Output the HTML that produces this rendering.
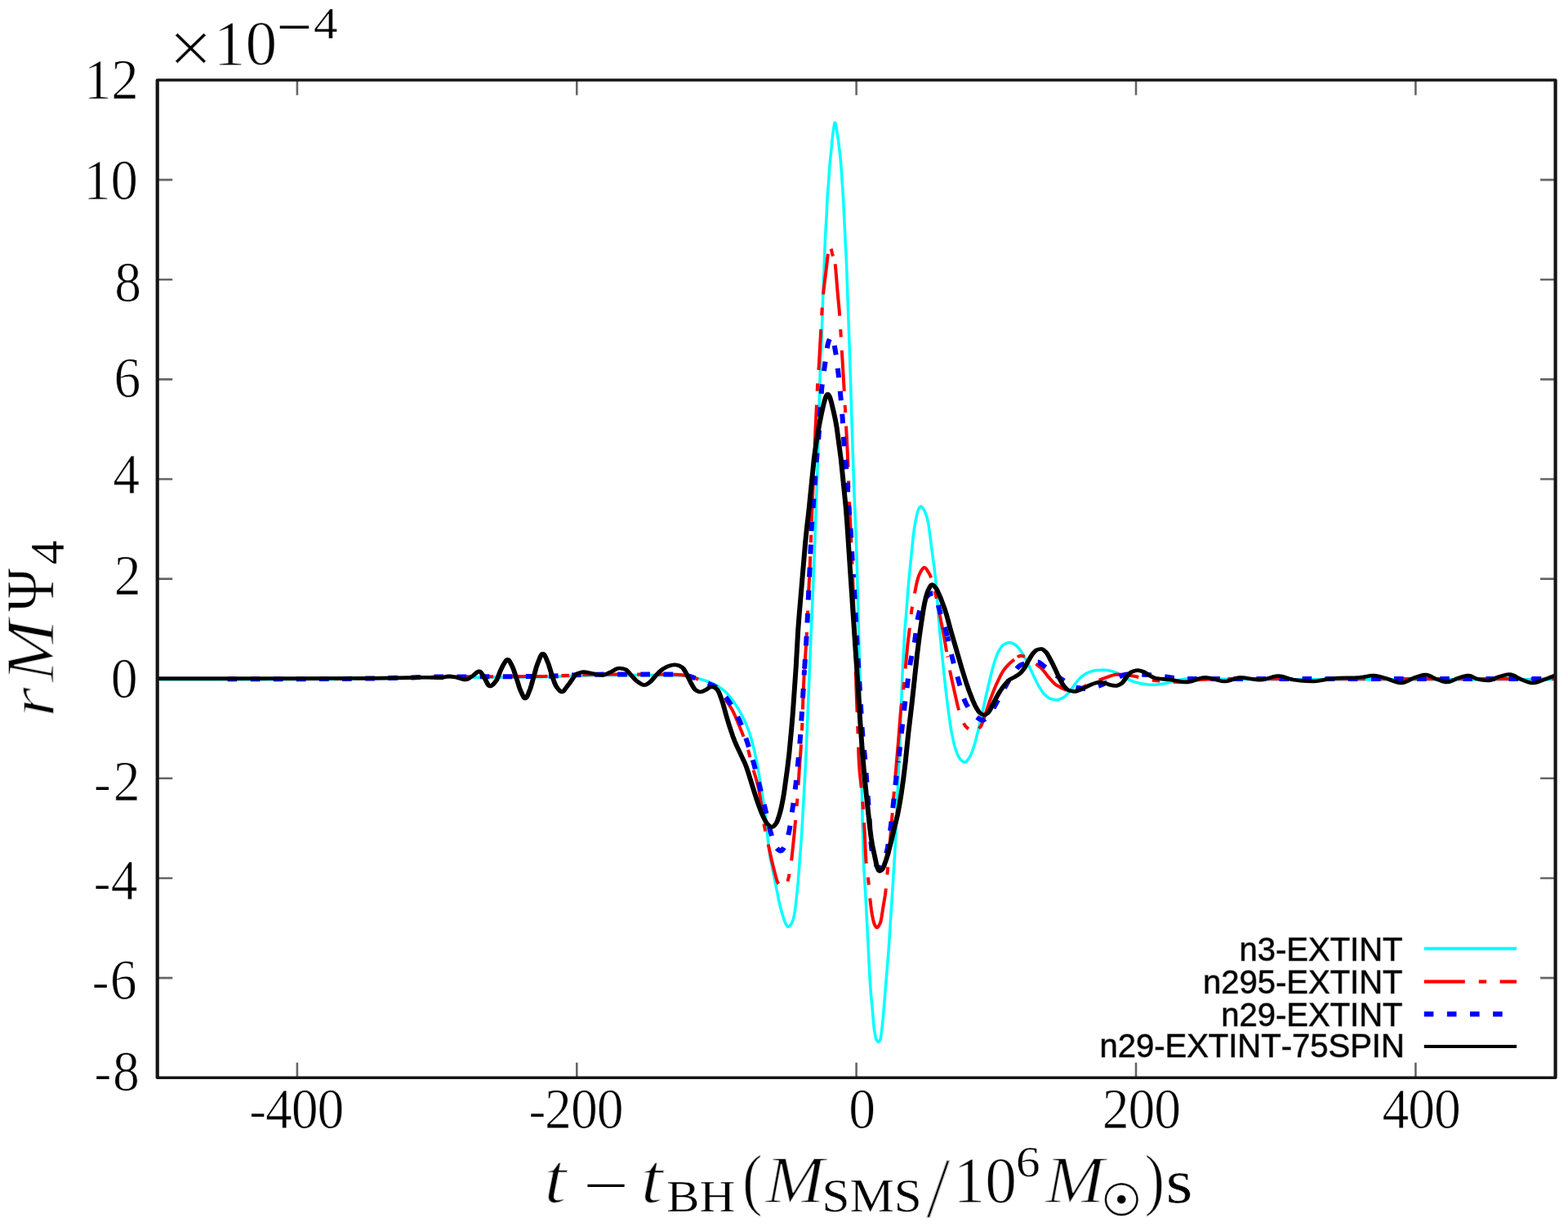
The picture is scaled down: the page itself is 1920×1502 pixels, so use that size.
<!DOCTYPE html>
<html lang="en"><head><meta charset="utf-8"><title>rM&#936;4 waveform</title>
<style>html,body{margin:0;padding:0;background:#fff}body{width:1920px;height:1502px;overflow:hidden}svg{display:block}</style>
</head><body>
<svg width="1920" height="1502" viewBox="0 0 1920 1502" role="img" aria-label="rM Psi4 waveform versus time for four models">
<rect x="0" y="0" width="1920" height="1502" fill="#ffffff"/>
<g stroke="#666" stroke-width="2.6" fill="none">
<path d="M363.9,1319.2 v-18.5 M363.9,98.0 v18.5"/>
<path d="M706.3,1319.2 v-18.5 M706.3,98.0 v18.5"/>
<path d="M1048.6,1319.2 v-18.5 M1048.6,98.0 v18.5"/>
<path d="M1391.0,1319.2 v-18.5 M1391.0,98.0 v18.5"/>
<path d="M1733.4,1319.2 v-18.5 M1733.4,98.0 v18.5"/>
<path d="M192.7,1197.1 h18.5 M1904.6,1197.1 h-18.5"/>
<path d="M192.7,1075.0 h18.5 M1904.6,1075.0 h-18.5"/>
<path d="M192.7,952.8 h18.5 M1904.6,952.8 h-18.5"/>
<path d="M192.7,830.7 h18.5 M1904.6,830.7 h-18.5"/>
<path d="M192.7,708.6 h18.5 M1904.6,708.6 h-18.5"/>
<path d="M192.7,586.5 h18.5 M1904.6,586.5 h-18.5"/>
<path d="M192.7,464.4 h18.5 M1904.6,464.4 h-18.5"/>
<path d="M192.7,342.2 h18.5 M1904.6,342.2 h-18.5"/>
<path d="M192.7,220.1 h18.5 M1904.6,220.1 h-18.5"/>
</g>
<g fill="none" stroke-linejoin="round">
<path d="M192.70,831.80 L348.70,831.75 L417.20,831.51 L459.70,831.07 L509.70,830.07 L533.70,829.47 L562.20,829.31 L631.20,829.05 L664.20,828.73 L679.70,828.26 L716.20,826.93 L729.70,826.60 L758.70,826.40 L811.20,826.44 L827.70,826.67 L834.20,827.03 L841.70,827.73 L845.20,828.39 L856.20,830.96 L861.20,832.36 L866.70,834.23 L871.20,836.05 L875.20,837.92 L879.20,840.11 L882.70,842.36 L885.70,844.57 L888.20,846.71 L890.70,849.28 L893.70,852.85 L897.20,857.49 L901.20,863.21 L904.20,867.96 L907.20,873.24 L910.20,879.08 L912.70,884.43 L915.20,890.42 L917.70,897.22 L919.70,903.45 L921.70,910.80 L924.20,921.22 L926.20,930.87 L929.20,946.95 L933.20,970.71 L935.20,983.94 L937.20,998.98 L939.20,1017.44 L941.70,1039.93 L942.70,1047.23 L943.70,1052.90 L947.20,1069.59 L951.70,1092.16 L953.70,1102.42 L955.20,1108.97 L957.20,1116.45 L960.20,1126.26 L961.20,1129.04 L961.70,1130.14 L963.20,1132.69 L964.20,1133.98 L964.70,1134.36 L965.20,1134.50 L965.70,1134.41 L966.20,1134.16 L966.70,1133.78 L967.70,1132.67 L969.20,1130.50 L969.70,1129.60 L970.20,1128.45 L971.20,1125.43 L972.20,1121.56 L972.70,1119.32 L973.20,1116.41 L974.20,1108.63 L976.20,1090.52 L977.20,1079.90 L980.20,1040.59 L981.20,1027.11 L982.70,1002.93 L984.70,966.32 L986.20,940 L988.20,895 L990.70,835.08 L993.20,773.88 L995.70,717.14 L997.70,666.40 L1000.20,594.95 L1001.20,569.07 L1001.70,553.10 L1003.20,492.53 L1004.20,457.80 L1004.70,445.38 L1005.70,424.84 L1006.20,411.67 L1007.70,363.70 L1010.20,298.68 L1011.20,278.23 L1012.20,263.20 L1012.70,250.24 L1013.20,239.99 L1014.70,221.77 L1015.70,205.87 L1016.20,199.71 L1018.20,180.19 L1019.20,169.42 L1019.70,164.82 L1021.20,154.15 L1021.70,151.55 L1022.20,150.14 L1022.70,150.26 L1023.20,151.69 L1023.70,154.06 L1025.70,166.38 L1027.20,177.46 L1028.70,190.41 L1029.70,200.81 L1030.20,207.29 L1031.20,223.20 L1032.20,236.84 L1032.70,245.08 L1033.70,267.07 L1034.70,286.55 L1035.20,297.93 L1036.20,315.90 L1036.70,327.40 L1038.20,370.92 L1040.20,425.98 L1041.70,473.22 L1043.20,521.27 L1045.70,597.58 L1046.70,621.78 L1048.20,657.43 L1049.20,686.74 L1050.70,744.54 L1052.20,801.67 L1053.20,845.14 L1054.20,900 L1055.20,960.98 L1056.20,1008.50 L1057.20,1046.95 L1057.70,1060.23 L1058.20,1069.69 L1059.70,1092.75 L1062.20,1139.81 L1064.70,1190.81 L1065.20,1199.88 L1066.20,1213.50 L1068.20,1235.45 L1069.70,1253.15 L1070.20,1257.98 L1070.70,1261.64 L1071.70,1267.41 L1072.20,1269.73 L1072.70,1271.52 L1073.20,1272.69 L1074.20,1274.39 L1074.70,1275.01 L1075.20,1275.40 L1075.70,1275.49 L1076.20,1275.24 L1076.70,1274.69 L1077.20,1273.89 L1077.70,1272.92 L1078.20,1271.60 L1078.70,1269.09 L1079.20,1265.58 L1081.20,1247.42 L1083.20,1223.61 L1086.20,1186.23 L1087.70,1168.35 L1089.20,1146.45 L1094.70,1061.43 L1096.20,1035.71 L1097.20,1015.27 L1100.70,934.62 L1101.70,912.41 L1104.70,832.33 L1105.70,811.36 L1107.20,782.86 L1107.70,774.47 L1108.20,767.76 L1109.70,750.44 L1112.20,717.83 L1113.20,706.88 L1117.20,666.92 L1118.20,656.67 L1119.20,648.97 L1120.70,639.75 L1122.20,632.40 L1123.20,628.09 L1123.70,626.23 L1124.20,624.71 L1125.20,622.56 L1126.20,620.82 L1126.70,620.26 L1127.20,620.01 L1127.70,620.07 L1128.20,620.31 L1129.20,621.16 L1130.20,622.22 L1131.20,623.72 L1132.70,626.83 L1133.70,629.36 L1134.70,632.40 L1135.70,636.07 L1136.70,640.49 L1137.20,643.44 L1138.70,655.15 L1142.20,682.12 L1144.20,696.61 L1145.70,710.14 L1146.70,720.96 L1149.70,760.67 L1151.20,778.05 L1156.20,827.40 L1159.20,854.02 L1161.20,869.90 L1163.70,887.62 L1165.20,896.50 L1167.20,906.27 L1168.70,912.47 L1169.70,915.89 L1171.70,921.58 L1173.20,925.16 L1174.20,927.07 L1175.20,928.50 L1177.20,930.72 L1178.70,932.07 L1179.70,932.71 L1180.70,933.05 L1181.20,933.10 L1181.70,933.04 L1182.20,932.86 L1183.20,932.19 L1184.20,931.18 L1185.70,929.25 L1187.70,926.30 L1188.70,924.31 L1190.20,920.53 L1192.70,913.19 L1194.20,908.14 L1197.20,896.50 L1199.70,885.84 L1210.20,839.51 L1214.20,823.02 L1216.20,815.27 L1217.70,810.20 L1220.20,803 L1221.70,799.32 L1222.70,797.29 L1224.70,794.07 L1226.20,791.95 L1227.70,790.20 L1228.70,789.30 L1229.70,788.65 L1232.70,787.35 L1234.70,786.79 L1236.20,786.61 L1237.20,786.65 L1238.70,787.01 L1240.20,787.65 L1243.20,789.36 L1244.70,790.51 L1246.20,792.05 L1248.20,794.49 L1250.70,797.86 L1252.70,801.07 L1255.70,806.56 L1259.20,813.40 L1265.70,827.41 L1270.20,836.66 L1272.20,840.30 L1275.20,845.17 L1276.70,847.34 L1278.20,849.18 L1281.20,852.09 L1283.20,853.72 L1284.70,854.67 L1286.20,855.30 L1289.70,856.23 L1292.20,856.63 L1294.20,856.68 L1295.70,856.46 L1297.70,855.85 L1301.20,854.30 L1302.70,853.43 L1304.20,852.27 L1306.20,850.41 L1309.20,847.24 L1310.70,845.34 L1315.70,838.14 L1320.20,832.57 L1322.20,830.38 L1323.70,829 L1327.20,826.28 L1329.70,824.64 L1331.70,823.58 L1334.20,822.61 L1337.70,821.50 L1340.70,820.83 L1343.70,820.50 L1349.20,820.15 L1352.70,820.12 L1355.70,820.42 L1359.70,821.17 L1362.70,821.89 L1365.20,822.80 L1369.20,824.62 L1372.20,826.15 L1378.70,830.22 L1382.20,831.94 L1386.20,833.63 L1389.70,834.82 L1394.70,836.20 L1398.70,837 L1405.20,837.98 L1408.70,838.27 L1412.20,838.26 L1416.70,837.93 L1424.20,837.01 L1427.20,836.53 L1431.20,835.53 L1439.20,833.17 L1442.70,832.38 L1452.20,831.03 L1457.70,830.48 L1462.20,830.30 L1468.20,830.43 L1480.20,830.98 L1507.20,831.40 L1570.20,831.75 L1675.20,831.80 L1874.70,831.80 L1904.60,831.80" stroke="#00ffff" stroke-width="3.5"/>
<path d="M192.70,831 L292.45,831 L376.45,830.88 L423.95,830.66 L463.95,830.21 L505.70,829.36 L532.45,828.60 L549.70,828.45 L649.45,828.09 L665.95,827.90 L680.95,827.33 L700.45,826.48 L723.95,825.70 L748.20,825.44 L810.20,825.43 L827.20,825.66 L832.70,826.01 L839.20,826.71 L842.20,827.19 L845.20,828.03 L853.20,830.86 L865.20,835.83 L868.20,837.32 L870.95,839 L873.70,841 L876.95,843.73 L880.45,847.05 L883.70,850.53 L886.70,854.16 L889.95,858.54 L893.20,863.41 L896.45,868.79 L898.45,872.65 L901.20,878.73 L908.70,897.08 L911.95,905.52 L914.45,912.74 L916.45,919.35 L920.20,933.43 L923.20,944.63 L926.95,957.28 L928.45,963.14 L929.70,969.04 L930.95,976.74 L934.70,1003.86 L935.95,1011.42 L937.95,1021.34 L944.95,1053.20 L947.70,1064.19 L950.20,1073.84 L951.45,1077.89 L952.45,1080.41 L953.20,1081.76 L955.20,1084.30 L956.45,1085.54 L957.45,1086.21 L958.20,1086.46 L958.95,1086.46 L959.70,1086.12 L960.45,1085.48 L961.45,1084.23 L962.70,1082.19 L964.20,1079.23 L964.95,1077 L965.95,1072.95 L967.45,1065.19 L968.45,1058.94 L969.70,1048.26 L972.20,1024.49 L974.95,995.27 L976.70,973.52 L977.70,958.57 L978.70,942.35 L980.45,919.25 L981.70,898.93 L982.45,882.81 L983.45,851.28 L984.45,829.36 L985,819.66" stroke="#ff0000" stroke-width="4.0" stroke-dasharray="50.0 17.0 9.4 16.4" stroke-dashoffset="36.2"/>
<path d="M985,819.66 L986.75,794.06 L988.25,767.50 L989.25,745.44 L990.25,722.78 L991.75,693.47 L992.50,673.41 L993.50,644.91 L996.50,573.52 L998.50,525.49 L1000,494.78 L1001,471.80 L1001.75,461.43 L1002.50,452.01 L1005,407.72 L1006.50,380.19 L1007.50,365.91 L1008.50,355.44 L1010,343.41 L1011.50,331.58 L1013.50,313.69 L1015,302.43 L1015.25,300.99 L1015.50,299.97 L1015.75,299.51 L1016,299.60 L1016.25,299.97 L1017,302.05 L1017.75,304.69 L1019,310.27 L1020,313.53 L1021.25,317.35 L1022,320.27 L1022.60,323.30" stroke="#ff0000" stroke-width="4.0" stroke-dasharray="50.0 17.0 9.4 16.4" stroke-dashoffset="4.1"/>
<path d="M1022.60,323.30 L1023.10,327.19 L1024.10,339.12 L1025.35,354.98 L1027.60,379.01 L1028.20,386.60" stroke="#ff0000" stroke-width="4.0"/>
<path d="M1028.20,386.60 L1031.45,439.54 L1033.20,469.43 L1034.20,486.76 L1035.45,511.08 L1037.45,547.66 L1038.45,569.62 L1039.95,614.22 L1040.70,630.99 L1042.20,660.54 L1043.70,694.93 L1045,730" stroke="#ff0000" stroke-width="4.0" stroke-dasharray="50.0 17.0 9.4 16.4" stroke-dashoffset="50.4"/>
<path d="M1045,730 L1047,793.17 L1048.75,851.44 L1050.25,890.16 L1051.50,926.38 L1052,936.50 L1052.75,946.01 L1054.75,964.75 L1056.25,980.26 L1057.25,993.67 L1058.75,1019.20 L1060,1046.33 L1060.50,1054.40 L1061.25,1062.01 L1063,1074.98 L1063.75,1082.13 L1065.25,1099.29 L1065.40,1100.70" stroke="#ff0000" stroke-width="4.0" stroke-dasharray="50.0 17.0 9.4 16.4" stroke-dashoffset="0.9"/>
<path d="M1065.40,1100.70 L1066.90,1113.19 L1067.90,1119.86 L1069.15,1125.95 L1070.15,1129.78 L1070.90,1131.80 L1072.15,1134.09 L1072.90,1135.08 L1073.40,1135.44 L1073.90,1135.48 L1074.40,1135.29 L1075.15,1134.64 L1075.90,1133.63 L1077.15,1131.33 L1078.15,1129.03 L1078.65,1127.13 L1079.40,1123.18 L1081.65,1108.93 L1083.65,1096.97 L1084.70,1089.20" stroke="#ff0000" stroke-width="4.0"/>
<path d="M1084.70,1089.20 L1085.70,1078.98 L1090.70,1019.97 L1095.70,958.25 L1100,908" stroke="#ff0000" stroke-width="4.0" stroke-dasharray="50.0 17.0 9.4 16.4" stroke-dashoffset="48.4"/>
<path d="M1100,908 L1102.50,875.35 L1103.50,865.33 L1106.25,843.06 L1108.50,820.35 L1111.25,790.37 L1112.50,779.72 L1113.75,769.69 L1115.75,750.99 L1117,742.57 L1118.75,732.99 L1122,715.83 L1123,711.64 L1124.50,706.35 L1125.50,703.58 L1127,700.59 L1128.75,697.54 L1129.75,696.17 L1130.50,695.41 L1131.25,694.94 L1131.75,694.81 L1132.25,694.84 L1133,695.20 L1134,696.15 L1135.25,697.87 L1138,702.42 L1139.50,705.67 L1141.25,710.35 L1142.50,714.42 L1144.25,721.36 L1147.25,734.84 L1152,759.24 L1155,773.94 L1157,785.39 L1160,803.28" stroke="#ff0000" stroke-width="4.0" stroke-dasharray="50.0 17.0 9.4 16.4" stroke-dashoffset="2.9"/>
<path d="M1160,803.28 L1163.25,821.29 L1165.50,832.21 L1170.25,853.43 L1172.50,863.41 L1173.75,868.02 L1176.75,877.16 L1178.75,882.48 L1180.25,885.78 L1181.50,887.93 L1182.50,889.20 L1185.25,891.92 L1187.25,893.52 L1188.75,894.40 L1190,894.85 L1191.25,895 L1192.75,894.82 L1194.25,894.34 L1195.75,893.59 L1197.75,892.22 L1198.50,891.61" stroke="#ff0000" stroke-width="4.0" stroke-dasharray="50.0 17.0 9.4 16.4" stroke-dashoffset="75.3"/>
<path d="M1198.50,891.61 L1200.50,889.80 L1201.25,888.79 L1202.25,886.69 L1203.75,882.55 L1206,875.95 L1208.75,867.80 L1212,857.99 L1216.25,846.66 L1219.25,839.37 L1223.25,830.79 L1226,825.38 L1228,821.93 L1229.75,819.37 L1232.25,816.29 L1235,813.36 L1237.75,810.81 L1242,807.41" stroke="#ff0000" stroke-width="4.0"/>
<path d="M1242,807.41 L1245.25,804.80 L1247,803.68 L1248.50,803.04 L1249.50,802.83 L1251,802.85 L1253,803.21 L1255.75,804.11 L1258.75,805.35 L1260.50,806.45 L1263.50,808.89 L1266.50,811.28 L1271.75,815.19 L1274.50,817.53 L1276.25,819.29 L1278.75,822.30 L1283.25,828.08 L1289.50,835.13 L1291.75,837.30 L1293.25,838.46 L1298.75,841.61 L1302.50,843.48 L1305.50,844.69 L1308,845.43 L1310.25,845.85 L1312.50,846 L1314.50,845.84 L1316.50,845.41 L1319,844.55 L1322.25,843.08 L1329.25,839.55 L1341.25,834.43 L1347.50,831.89 L1354.50,829.34 L1360,827.30 L1363.25,826.34 L1366,825.80 L1368.50,825.60 L1372.75,825.72 L1378,826.20 L1387.25,827.46 L1390.50,828.06 L1395,829.23 L1402.25,831.26 L1405.75,831.96 L1413.50,832.97 L1422.50,833.81 L1436.50,834.79 L1443,835 L1446.75,834.91 L1451.25,834.49 L1459,833.34 L1465.25,832.43 L1469.75,832.01 L1485.75,831.28 L1496.50,831.02 L1596.25,831 L1696,831 L1795.75,831 L1895.50,831 L1904.60,831" stroke="#ff0000" stroke-width="4.0" stroke-dasharray="50.0 17.0 9.4 16.4" stroke-dashoffset="62.1"/>
<path d="M268,831.30 L358.75,831.23 L415.25,831.01 L457.25,830.49 L503.25,829.42 L531.75,828.61 L548,828.46 L647.75,828.10 L665.75,827.90 L678.75,827.43 L699.50,826.52 L723.25,825.72 L742.50,825.48 L769.50,825.40 L811.50,825.44 L827.50,825.67 L833.25,826.05 L840.25,826.85 L842.50,827.26 L845.25,828.05 L852.75,830.70 L867.50,836.67 L874,839.59 L876.75,841.09 L879,842.63 L881,844.37 L883.50,846.99 L886.75,850.91 L891.75,857.58 L895,862.36 L898.25,867.69 L901.50,873.62 L904.75,880.22 L906.75,884.91 L909.50,892.30 L915.75,910.76 L919.75,923.49 L923.50,936.41 L927.25,950.64 L933.50,975.64 L937.75,993.46 L941.75,1011.23 L943.50,1018 L946.50,1028.63 L947.75,1032.39 L948.75,1034.74 L949.50,1036 L951.50,1038.55 L953,1040.10 L954,1040.87 L955,1041.35 L955.75,1041.50 L956.50,1041.39 L957.25,1040.99 L958.25,1040.05 L959.50,1038.37 L961.50,1035 L962.25,1033.36 L963.25,1030.36 L964.50,1025.60 L966.50,1016.53 L967.75,1009.25 L972.50,975.71 L974.50,959.80 L976.25,943 L979.25,911.92 L980.25,898.81 L982.50,862.61 L983.75,842.69 L985,820.39" stroke="#0000ff" stroke-width="6.0" stroke-dasharray="11.6 16.5" stroke-dashoffset="17.5"/>
<path d="M985,820.39 L986.75,794.04 L988.25,767.50 L989.25,745.44 L990.25,722.69 L992,687.75 L993.25,656.13 L993.75,646.44 L994.75,632.30 L996.25,612.95 L999.75,563.78 L1001,549.92 L1002.25,536.85 L1003,527.01 L1005.50,484.46 L1006.25,475.09 L1007.25,466.18 L1008.75,455.58 L1010.50,443.33 L1012.50,428.13 L1013.25,423.50 L1014,420.13 L1015,416.96 L1016,414.59 L1017.25,412.18 L1017.75,411.59 L1018,411.50 L1018.25,411.60 L1018.50,411.89 L1019,412.89 L1020,415.57 L1020.75,418.33 L1022,424.49 L1023.25,431.70 L1024.75,442.42 L1026.75,459.03 L1028.75,478.74 L1030.75,500.38 L1031.75,513.55 L1033,536.22 L1033.75,545.99 L1035.75,566.67 L1037,584.16 L1040,628.36 L1041.75,650.77 L1042.75,668.16 L1044,691.67 L1045,706.90" stroke="#0000ff" stroke-width="6.0" stroke-dasharray="11.6 16.5" stroke-dashoffset="26.2"/>
<path d="M1045,706.90 L1046.50,730 L1048.75,774.59 L1052.25,833.67 L1054,863.70 L1055.50,889.61 L1056.25,899.65 L1057.25,910.02 L1059,926.56 L1060.25,942.09 L1063.75,989.61 L1066,1025.38 L1066.75,1034.51 L1067.25,1038.68 L1068.50,1045.56 L1069.50,1049.93 L1070.50,1053.38 L1071.50,1055.99 L1073,1058.80 L1074.25,1060.80 L1075.25,1062.04 L1076,1062.67 L1076.75,1062.98 L1077.25,1062.97 L1077.75,1062.77 L1078.50,1062.13 L1079.50,1060.78 L1081,1058.04 L1082.50,1054.86 L1083.50,1051.93 L1084.75,1047.27 L1086.75,1038.28 L1088,1031.31 L1089.75,1019.41 L1091.25,1007.85 L1095.25,970.97 L1097.75,949.49 L1100,931.92" stroke="#0000ff" stroke-width="6.0" stroke-dasharray="11.6 16.5" stroke-dashoffset="13.1"/>
<path d="M1100,931.92 L1101.75,916.91 L1105,886.97 L1107.75,863.56 L1112,830.41 L1113.50,818.65 L1114.75,810.89 L1116.50,802.16 L1119,790.46 L1120.25,783.46 L1121.50,774.32 L1123.25,760.74 L1124,755.97 L1124.75,752.52 L1126,748.19 L1127.50,744.02 L1129.25,740.05 L1131.75,735.07 L1133.50,732.10 L1134.75,730.41 L1136.50,728.63 L1137.75,727.63 L1138.75,727.09 L1141,726.47 L1142.50,726.30 L1143,726.39 L1143.50,726.71 L1144.25,727.50 L1145.25,728.90 L1146,730.68 L1148,737.26 L1150.75,748.35 L1153,755.93 L1157.50,770.15 L1159.50,777.36 L1160,779.38" stroke="#0000ff" stroke-width="6.0" stroke-dasharray="11.6 16.5" stroke-dashoffset="21.9"/>
<path d="M1160,779.38 L1164.50,799.37 L1168,812.93 L1172.25,828.07 L1178.50,849.79 L1180.25,855.14 L1181.75,858.95 L1183.25,861.90 L1185.75,866.16 L1188,869.50 L1190.25,872.39 L1192.50,874.82 L1194.50,876.61 L1198.50,879.68 L1200.25,880.75 L1201.50,881.26 L1202.50,881.47 L1203.50,881.46 L1204.50,881.14 L1205.75,880.38 L1207.25,879.07 L1211.75,874.16 L1213.50,871.86 L1215.75,868.35 L1219,862.53 L1224.75,851.74 L1229.50,843.29 L1235.25,832.81 L1238.25,827.85 L1240.75,824.26 L1245,818.54 L1246.75,816.53 L1248.25,815.15 L1249.50,814.34 L1252.50,813.12 L1255.50,812.15 L1258.50,811.46 L1261.50,811.04 L1268,810.65 L1271.25,810.61 L1272.25,810.89 L1273.50,811.62 L1277,814.40 L1281.50,817.61 L1294,827.24 L1298.50,830.41 L1304.50,834.46 L1309.25,837.65 L1312.25,839.39 L1314.75,840.57 L1316.75,841.28 L1320.25,842.07 L1324.25,842.74 L1327.25,842.99 L1330,842.93 L1333.50,842.53 L1339.75,841.41 L1342.75,840.62 L1346.50,839.29 L1351.50,837.14 L1360.25,833.13 L1365.25,831.04 L1372.50,827.52 L1375.25,826.45 L1377.50,825.85 L1379.50,825.61 L1399.75,825.64 L1406,826 L1418,827.20 L1425,827.96 L1440.25,830.29 L1445.50,830.83 L1449.75,831 L1549.50,831 L1649.25,831 L1749,831 L1848.75,831 L1904.60,831" stroke="#0000ff" stroke-width="6.0" stroke-dasharray="11.6 16.5" stroke-dashoffset="5.8"/>
<path transform="scale(1.3,1)" d="M148.23,830.60 L262.46,830.56 L346.31,830.21 L373.62,829.92 L395.15,829.25 L402.08,829.22 L414,829.69 L415.92,829.67 L417.08,829.44 L420.92,828.06 L422.08,827.83 L423.62,827.85 L425.54,828.14 L430.92,829.54 L435.54,831.42 L437.08,831.85 L438.23,832 L439,831.95 L440.15,831.53 L441.31,830.79 L443.23,829.12 L446.31,826.34 L449.38,822.86 L450.15,822.20 L450.92,821.79 L451.31,821.71 L451.69,821.74 L452.08,821.95 L452.46,822.34 L453.23,823.52 L456.69,830.63 L459.38,837.34 L460.15,838.81 L460.54,839.35 L460.92,839.75 L461.31,839.96 L461.69,839.99 L462.08,839.92 L462.85,839.53 L463.62,838.86 L464.77,837.46 L466.31,835.09 L467.46,833.12 L468.23,831.31 L469.38,827.69 L471.31,821.19 L473.62,814.87 L475.54,810.70 L476.69,808.45 L477.08,807.89 L477.46,807.47 L477.85,807.24 L478.23,807.22 L478.62,807.40 L479,807.77 L479.77,808.97 L480.92,811.58 L482.85,816.65 L484,820.57 L487.08,832.73 L489.38,842.31 L490.54,846.04 L492.46,851.61 L493.23,853.41 L493.62,854.10 L494,854.61 L494.38,854.92 L494.77,854.99 L495.15,854.81 L495.54,854.38 L496.31,852.93 L497.46,849.69 L499.38,843.39 L500.54,838.54 L505.15,816.92 L506.31,812.55 L508.62,804.85 L509.38,802.72 L510.15,801.11 L510.54,800.57 L510.92,800.22 L511.31,800.10 L511.69,800.22 L512.08,800.55 L512.46,801.07 L513.23,802.60 L514.38,805.78 L516.69,813.18 L517.85,817.91 L519.77,826.32 L522.46,836.23 L523.62,839.60 L524.38,841.17 L526.31,844.42 L527.46,845.93 L528.23,846.61 L528.62,846.84 L529,846.97 L529.38,847 L529.77,846.89 L530.15,846.65 L530.92,845.83 L532.08,844.01 L534,840.50 L536.31,836.64 L539.38,830.92 L540.92,827.55 L541.69,826.23 L542.46,825.48 L543.62,824.72 L547.46,822.99 L548.62,822.66 L549.77,822.61 L551.69,822.85 L559,824.64 L563.62,825.93 L565.92,826.32 L567.46,826.40 L568.62,826.21 L569.77,825.80 L572.08,824.54 L575.92,822.25 L579.77,819.33 L581.31,818.44 L582.46,818.07 L583.62,818.01 L585.15,818.20 L587.46,818.84 L589,819.43 L589.77,819.95 L590.54,820.75 L592.08,822.92 L594.38,826.49 L598.62,832.37 L599.77,833.73 L603.23,836.82 L604.77,837.90 L605.92,838.42 L606.69,838.58 L607.46,838.56 L608.23,838.30 L609.38,837.58 L610.92,836.20 L613.23,833.81 L614.38,832.21 L617.46,827.32 L621.69,821.76 L623.62,819.62 L625.15,818.28 L627.85,816.40 L629.77,815.31 L631.69,814.53 L634.38,813.88 L635.54,813.80 L637.08,814.01 L638.62,814.41 L639.77,814.93 L640.92,815.67 L642.46,816.97 L643.23,817.76 L644,818.98 L645.15,821.48 L647.85,828.10 L650.54,835.30 L653.23,841.54 L654,843.06 L654.77,844.22 L655.54,844.95 L657.08,846.09 L658.23,846.71 L659,846.94 L659.77,847 L660.54,846.87 L661.69,846.43 L665.15,844.34 L667.85,841.80 L668.62,841.24 L669.38,840.93 L670.92,840.96 L672.85,841.24 L673.23,841.41 L674,842.06 L675.15,843.54 L675.92,844.72 L676.69,846.30 L677.85,849.61 L680.15,857.87 L681.31,862.77 L684.38,877.25 L687.46,890.44 L690.15,900.77 L692.08,907.41 L694.38,914.26 L701.31,933.35 L702.85,938.25 L704.77,945.60 L709,963.35 L712.46,977.65 L714.77,986.40 L717.46,995.54 L719,1000 L720.92,1005.04 L722.08,1007.56 L722.85,1008.80 L724.77,1011.06 L725.92,1012.02 L726.31,1012.23 L727.08,1012.40 L727.46,1012.34 L727.85,1012.17 L728.62,1011.54 L729.77,1010.03 L731.31,1007.41 L732.08,1005.42 L733.23,1001.22 L734.77,994.56 L735.92,988.49 L737.46,978.73 L738.62,969.53 L741.69,940.58 L743.23,923.75 L745.15,897.73 L746.69,874.60 L749.77,816.58 L751.69,771.50 L752.85,751.87 L755.15,716.56 L758.62,663.39 L759.77,648.36 L762.08,622.15 L766.69,562.35 L767.85,550.75 L769.77,534.27 L771.69,520.05 L773.62,507.44 L775.92,494.22 L777.08,488.86 L777.85,485.91 L778.23,484.78 L779,483.06 L779.38,482.47 L779.77,482.31 L780.15,482.66 L780.92,484.25 L781.31,485.19 L782.08,487.92 L783.23,493.04 L785.54,505.98 L787.08,515.46 L788.23,523.93 L789.38,535.23 L790.92,550.38 L792.08,561.52 L793.23,575.97 L796.69,620.87 L797.85,639.94 L799.77,677.63 L805.54,789.87 L808.62,849.44 L810.15,881.82 L812.08,916.75 L813.62,941.05 L815.54,966.98 L819.38,1013.73 L820.54,1025.55 L821.69,1034.62 L823.23,1044.08 L825.54,1058.24 L825.92,1060.11 L827.08,1064.06 L827.46,1065.13 L827.85,1065.94 L828.23,1066.42 L828.62,1066.49 L829,1066.36 L829.38,1066.12 L830.15,1065.35 L831.31,1063.75 L831.69,1062.91 L832.46,1060.55 L834.77,1052.14 L836.31,1045.60 L839.38,1030.32 L842.08,1015.45 L844,1005.24 L845.54,996.87 L847.08,986.44 L849,971.11 L850.92,953.46 L852.85,932.83 L855.54,898.21 L859,860.28 L864,799.79 L865.92,779.71 L867.46,765.67 L869.77,745.93 L870.92,738.03 L872.08,731.64 L873.23,726.26 L874,723.40 L875.92,718.27 L876.69,716.71 L877.08,716.15 L877.46,715.77 L877.85,715.60 L878.23,715.65 L878.62,715.84 L879.38,716.58 L880.54,718.27 L881.69,720.20 L882.46,721.82 L884,726 L886.31,733.04 L889.38,743.91 L891.31,751.45 L892.85,758.61 L894.77,768.22 L906.31,820.05 L910.15,835.82 L912.85,845.87 L916.31,857.47 L918.23,863.09 L919.77,866.75 L921.31,870.03 L922.46,872.03 L923.23,872.99 L924.77,874.24 L925.92,874.93 L926.69,875.17 L927.46,875.15 L928.23,874.81 L929,874.21 L930.54,872.59 L931.31,871.50 L932.46,869.06 L938.62,853.54 L941.31,847.55 L943.62,842.99 L945.92,838.97 L949,834.30 L950.15,832.84 L951.31,831.72 L953.23,830.34 L955.54,828.83 L958.62,826.44 L960.15,825.01 L961.31,823.68 L962.85,821.44 L964.77,818.09 L965.92,815.67 L969,808.01 L971.69,802.17 L972.85,800.04 L974,798.39 L975.54,796.52 L976.31,795.81 L977.08,795.33 L979,794.66 L980.15,794.43 L980.92,794.41 L981.69,794.65 L982.46,795.17 L983.62,796.32 L985.54,798.75 L986.31,800.15 L987.85,803.70 L992.08,814.21 L994.77,821.51 L997.46,829.31 L1000.15,835.97 L1001.31,838.45 L1002.46,840.41 L1004.38,843.03 L1005.54,844.24 L1006.31,844.81 L1008.23,845.58 L1010.15,846.13 L1011.69,846.37 L1012.85,846.38 L1014,846.13 L1015.54,845.47 L1019.77,843.12 L1024,840.30 L1028.23,837.74 L1032.08,835.98 L1034,835.31 L1035.15,835.11 L1036.69,835.19 L1038.62,835.64 L1042.08,836.78 L1045.92,838.58 L1047.08,838.90 L1050.15,839.35 L1051.69,839.38 L1052.46,839.22 L1053.62,838.68 L1055.15,837.59 L1056.69,836.29 L1057.46,835.33 L1058.62,833.40 L1060.92,829.07 L1064,824.37 L1065.15,823.02 L1065.92,822.46 L1068.23,821.35 L1070.15,820.75 L1071.69,820.60 L1072.85,820.73 L1074.38,821.17 L1077.08,822.36 L1078.23,822.99 L1079.77,824.26 L1082.46,826.70 L1085.92,828.98 L1087.46,829.79 L1088.62,830.22 L1091.69,830.83 L1096.31,831.40 L1102.46,832.06 L1105.54,832.62 L1112.85,834.42 L1115.54,834.87 L1117.85,835 L1119.38,834.85 L1121.31,834.37 L1123.62,833.49 L1129.77,830.65 L1132.08,829.84 L1134,829.46 L1135.54,829.41 L1137.85,829.67 L1140.54,830.34 L1148.62,833.13 L1150.92,833.70 L1152.85,833.96 L1154.38,833.98 L1155.92,833.74 L1157.85,833.14 L1161.31,831.59 L1164.38,830.23 L1166.31,829.64 L1167.85,829.41 L1170.15,829.48 L1173.23,829.88 L1182.08,831.73 L1185.15,832.13 L1187.46,832.19 L1189.38,831.94 L1191.69,831.33 L1195.15,830.04 L1199,828.55 L1201.31,827.87 L1203.23,827.55 L1204.77,827.51 L1206.31,827.71 L1208.23,828.23 L1210.92,829.29 L1215.54,831.29 L1217.85,832.02 L1225.15,833.16 L1230.54,833.76 L1235.15,833.99 L1238.23,833.91 L1241.31,833.52 L1245.92,832.56 L1252.85,830.97 L1256.31,830.43 L1260.54,830.14 L1277.08,829.53 L1280.54,829.27 L1284,828.65 L1289.77,827.39 L1292.46,827.05 L1294.38,827.02 L1296.31,827.27 L1298.62,827.87 L1302.85,829.41 L1306.69,830.82 L1309.38,832.11 L1314,834.48 L1316.31,835.40 L1317.85,835.81 L1319.38,835.99 L1320.54,835.94 L1322.08,835.56 L1323.62,834.89 L1325.92,833.53 L1330.15,830.72 L1332.08,829.67 L1338.23,827 L1340.15,826.37 L1341.69,826.07 L1343.23,826.02 L1344.38,826.27 L1345.54,826.73 L1347.46,827.85 L1351.31,830.45 L1352.85,831.27 L1358.62,833.97 L1360.54,834.64 L1362.08,834.95 L1363.23,834.99 L1364.38,834.82 L1365.92,834.28 L1368.23,833.02 L1371.69,830.94 L1373.62,830.09 L1378.62,827.96 L1380.54,827.34 L1382.08,827.06 L1383.23,827 L1384.38,827.22 L1385.54,827.70 L1387.85,829.13 L1390.15,830.60 L1391.31,831.13 L1395.54,832.19 L1398.62,832.76 L1401.31,832.99 L1402.46,832.97 L1403.62,832.74 L1405.15,832.13 L1407.46,830.83 L1410.54,829.03 L1412.08,828.37 L1417.46,826.44 L1419.77,825.84 L1421.69,825.61 L1422.85,825.66 L1424,825.97 L1425.15,826.52 L1427.08,827.77 L1430.54,830.31 L1432.08,831.23 L1436.69,833.66 L1439.38,834.97 L1441.31,835.65 L1442.85,835.95 L1444.38,835.97 L1445.92,835.71 L1447.85,835.06 L1451.31,833.41 L1454.38,831.97 L1459.38,829.63 L1464.77,826.77 L1465.08,826.60" stroke="#000000" stroke-width="4.6"/>
</g>
<rect transform="scale(1.2,1)" x="160.583" y="98.0" width="1426.583" height="1221.2" fill="none" stroke="#151515" stroke-width="3.5" stroke-linejoin="round"/>
<g fill="#000" stroke="#fff" stroke-opacity="0.8" stroke-width="1.1" stroke-linejoin="round" style="font-kerning:none;font-variant-ligatures:none">
<text transform="translate(103.01,120.80) scale(0.9720,1)" font-family="'Liberation Serif', serif" font-size="68.80" letter-spacing="-0.3">12</text>
<text transform="translate(102.26,244.00) scale(0.9720,1)" font-family="'Liberation Serif', serif" font-size="68.80" letter-spacing="-0.3">10</text>
<text transform="translate(140.35,369.10) scale(0.9550,1)" font-family="'Liberation Serif', serif" font-size="68.80" letter-spacing="-1.1">8</text>
<text transform="translate(139.41,485.70) scale(0.9550,1)" font-family="'Liberation Serif', serif" font-size="68.80" letter-spacing="-1.1">6</text>
<text transform="translate(138.27,604.00) scale(0.9550,1)" font-family="'Liberation Serif', serif" font-size="68.80" letter-spacing="-1.1">4</text>
<text transform="translate(139.77,727.80) scale(0.9550,1)" font-family="'Liberation Serif', serif" font-size="68.80" letter-spacing="-1.1">2</text>
<text transform="translate(135.65,853.60) scale(0.9550,1)" font-family="'Liberation Serif', serif" font-size="68.80" letter-spacing="-1.1">0</text>
<text transform="translate(115.50,976.57) scale(1.1970,1)" font-family="'Liberation Serif', serif" font-size="49.53" stroke="none">-</text>
<text transform="translate(138.67,979.90) scale(0.9550,1)" font-family="'Liberation Serif', serif" font-size="68.80" letter-spacing="-1.1">2</text>
<text transform="translate(115.30,1097.57) scale(1.1970,1)" font-family="'Liberation Serif', serif" font-size="49.53" stroke="none">-</text>
<text transform="translate(135.87,1100.90) scale(0.9550,1)" font-family="'Liberation Serif', serif" font-size="68.80" letter-spacing="-1.1">4</text>
<text transform="translate(113.20,1219.17) scale(1.1970,1)" font-family="'Liberation Serif', serif" font-size="49.53" stroke="none">-</text>
<text transform="translate(134.71,1222.50) scale(0.9550,1)" font-family="'Liberation Serif', serif" font-size="68.80" letter-spacing="-1.1">6</text>
<text transform="translate(115.90,1331.37) scale(1.1970,1)" font-family="'Liberation Serif', serif" font-size="49.53" stroke="none">-</text>
<text transform="translate(137.95,1334.70) scale(0.9550,1)" font-family="'Liberation Serif', serif" font-size="68.80" letter-spacing="-1.1">8</text>
<text transform="translate(305.85,1377.37) scale(1.1970,1)" font-family="'Liberation Serif', serif" font-size="49.53" stroke="none">-</text>
<text transform="translate(325.00,1380.70) scale(0.9550,1)" font-family="'Liberation Serif', serif" font-size="68.80" letter-spacing="-1.1">400</text>
<text transform="translate(647.95,1377.37) scale(1.1970,1)" font-family="'Liberation Serif', serif" font-size="49.53" stroke="none">-</text>
<text transform="translate(667.10,1380.70) scale(0.9550,1)" font-family="'Liberation Serif', serif" font-size="68.80" letter-spacing="-1.1">200</text>
<text transform="translate(1039.17,1380.70) scale(0.9550,1)" font-family="'Liberation Serif', serif" font-size="68.80" letter-spacing="-1.1">0</text>
<text transform="translate(1349.68,1380.70) scale(0.9550,1)" font-family="'Liberation Serif', serif" font-size="68.80" letter-spacing="-1.1">200</text>
<text transform="translate(1692.38,1380.70) scale(0.9550,1)" font-family="'Liberation Serif', serif" font-size="68.80" letter-spacing="-1.1">400</text>
<text transform="translate(1517.48,1176.30) scale(1.0000,1)" font-family="'Liberation Sans', sans-serif" font-size="40.00" stroke="#000" stroke-opacity="0.45" stroke-width="1.3">n3-EXTINT</text>
<text transform="translate(1472.99,1216.10) scale(1.0000,1)" font-family="'Liberation Sans', sans-serif" font-size="40.00" stroke="#000" stroke-opacity="0.45" stroke-width="1.3">n295-EXTINT</text>
<text transform="translate(1495.23,1255.90) scale(1.0000,1)" font-family="'Liberation Sans', sans-serif" font-size="40.00" stroke="#000" stroke-opacity="0.45" stroke-width="1.3">n29-EXTINT</text>
<text transform="translate(1346.40,1294.30) scale(1.0000,1)" font-family="'Liberation Sans', sans-serif" font-size="40.00" stroke="#000" stroke-opacity="0.45" stroke-width="1.3">n29-EXTINT-75SPIN</text>
<text transform="translate(206.59,89.50) scale(1.0304,1)" font-family="'Liberation Serif', serif" font-size="92.63" stroke-width="1.4">×</text>
<text transform="translate(261.84,78.90) scale(0.9922,1)" font-family="'Liberation Serif', serif" font-size="77.98" stroke-width="1.4">10</text>
<text transform="translate(339.01,54.95) scale(1.1481,1)" font-family="'Liberation Serif', serif" font-size="66.26" stroke-width="0.0">−</text>
<text transform="translate(383.95,47.20) scale(1.0868,1)" font-family="'Liberation Serif', serif" font-size="54.24" stroke-width="0.5">4</text>
<g transform="rotate(-90)">
<text transform="translate(-877.77,66.26) scale(1.1733,1)" font-family="'Liberation Serif', serif" font-style="italic" font-size="80.05" stroke-width="1.9">r</text>
<text transform="translate(-834.79,66.26) scale(1.0724,1)" font-family="'Liberation Serif', serif" font-style="italic" font-size="85.25" stroke-width="1.9">M</text>
<text transform="translate(-748.67,66.06) scale(0.8504,1)" font-family="'Liberation Serif', serif" font-size="84.64" stroke-width="1.4">Ψ</text>
<text transform="translate(-691.37,77.80) scale(1.0208,1)" font-family="'Liberation Serif', serif" font-size="58.80" stroke-width="0.5">4</text>
</g>
<text transform="translate(666.13,1471.51) scale(1.1261,1)" font-family="'Liberation Serif', serif" font-style="italic" font-size="87.16" stroke-width="1.9">t</text>
<text transform="translate(714.86,1474.27) scale(1.4229,1)" font-family="'Liberation Serif', serif" font-size="68.27" stroke-width="0.0">−</text>
<text transform="translate(784.44,1471.51) scale(1.1216,1)" font-family="'Liberation Serif', serif" font-style="italic" font-size="87.16" stroke-width="1.9">t</text>
<text transform="translate(816.16,1482.54) scale(1.0809,1)" font-family="'Liberation Serif', serif" font-size="55.95" stroke-width="0.5">BH</text>
<text transform="translate(908.98,1472.36) scale(0.8720,1)" font-family="'Liberation Serif', serif" font-size="84.66" stroke-width="1.7">(</text>
<text transform="translate(937.55,1472.06) scale(1.0527,1)" font-family="'Liberation Serif', serif" font-style="italic" font-size="82.04" stroke-width="1.9">M</text>
<text transform="translate(1006.51,1482.64) scale(1.0579,1)" font-family="'Liberation Serif', serif" font-size="57.75" stroke-width="0.5">SMS</text>
<text transform="translate(1133.76,1490.30) scale(1.0161,1)" font-family="'Liberation Serif', serif" font-size="106.56" stroke-width="2.6">/</text>
<text transform="translate(1167.53,1472.28) scale(0.9715,1)" font-family="'Liberation Serif', serif" font-size="79.76" stroke-width="1.4">10</text>
<text transform="translate(1244.06,1440.48) scale(1.1082,1)" font-family="'Liberation Serif', serif" font-size="53.43" stroke-width="0.5">6</text>
<text transform="translate(1280.35,1472.36) scale(1.0469,1)" font-family="'Liberation Serif', serif" font-style="italic" font-size="82.50" stroke-width="1.9">M</text>
<text transform="translate(1348.39,1488.20) scale(1.0278,1)" font-family="'DejaVu Sans', sans-serif" font-size="54.07" stroke="#000" stroke-opacity="0.5" stroke-width="0.8">☉</text>
<text transform="translate(1401.54,1472.36) scale(0.8720,1)" font-family="'Liberation Serif', serif" font-size="84.66" stroke-width="1.7">)</text>
<text transform="translate(1427.43,1472.15) scale(1.1058,1)" font-family="'Liberation Serif', serif" font-size="76.51" stroke-width="0.5">s</text>
</g>
<g fill="none">
<path d="M1743.8,1161.2 H1857.1" stroke="#00ffff" stroke-width="4.0"/>
<path d="M1743.8,1201.6 H1857.1" stroke="#ff0000" stroke-width="4.2" stroke-dasharray="50 17 9.4 16.4"/>
<path d="M1743.8,1241.3 H1845" stroke="#0000ff" stroke-width="6.2" stroke-dasharray="11.6 16.5"/>
<path d="M1743.8,1281 H1857.1" stroke="#000" stroke-width="4.0"/>
</g>
</svg>
</body></html>
